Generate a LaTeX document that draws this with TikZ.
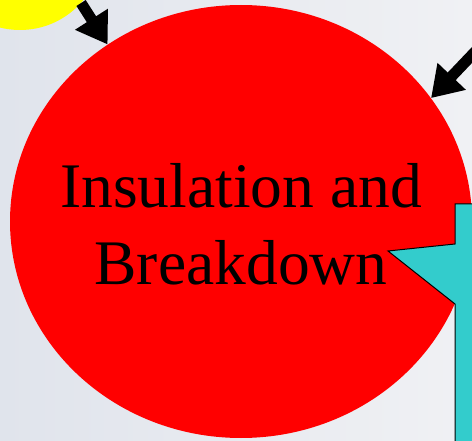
\documentclass[tikz,border=0pt]{standalone}
\usepackage{fontspec}
\setmainfont{Liberation Serif}
\usepackage{xcolor}
\usepackage{tikz}
\usetikzlibrary{shapes.geometric, arrows.meta, positioning, calc}
\definecolor{myred}{RGB}{255,0,0}
\definecolor{myyellow}{RGB}{255,255,0}
\definecolor{mycyan}{RGB}{51,204,204}
\definecolor{mydark}{RGB}{0,0,0}
\definecolor{bgleft}{RGB}{224,228,236}
\definecolor{bgright}{RGB}{240,241,244}
\tikzset{
  topic/.style={ellipse, fill=myred, inner sep=0pt,
    minimum width=462pt, minimum height=433pt},
  topictext/.style={align=center, inner sep=0pt, yshift=-3pt,
    font=\fontsize{63.5}{77}\selectfont},
  blob/.style={circle, fill=myyellow, inner sep=0pt, minimum size=164pt},
  notebox/.style={fill=mycyan, draw=mydark, line width=1pt, line join=miter},
  bigarrow/.style={-{Triangle[length=30pt, width=37pt]}, line width=11pt, color=mydark}
}

\begin{document}
\begin{tikzpicture}[x=1pt, y=1pt]
  % Canvas
  \useasboundingbox (0,0) rectangle (472,440);
  \clip (0,0) rectangle (472,440);
  \shade[left color=bgleft, right color=bgright] (0,0) rectangle (472,440);

  % Yellow circle (top left corner)
  \node[blob] (yellow) at (20,492) {};

  % Red topic circle
  \node[topic, label={[topictext]center:{Insulation and\\Breakdown}}] (topic) at (241,218.5) {};

  % Cyan callout
  \draw[notebox] (455,236) -- (455,196) -- (388,189) -- (455,136)
    -- (455,-10) -- (500,-10) -- (500,236) -- cycle;

  % Arrows
  \coordinate (src) at (510,425);
  \draw[bigarrow] (yellow.-42) -- (topic.127);
  \draw[bigarrow] (src) -- (topic.33);
\end{tikzpicture}
\end{document}
